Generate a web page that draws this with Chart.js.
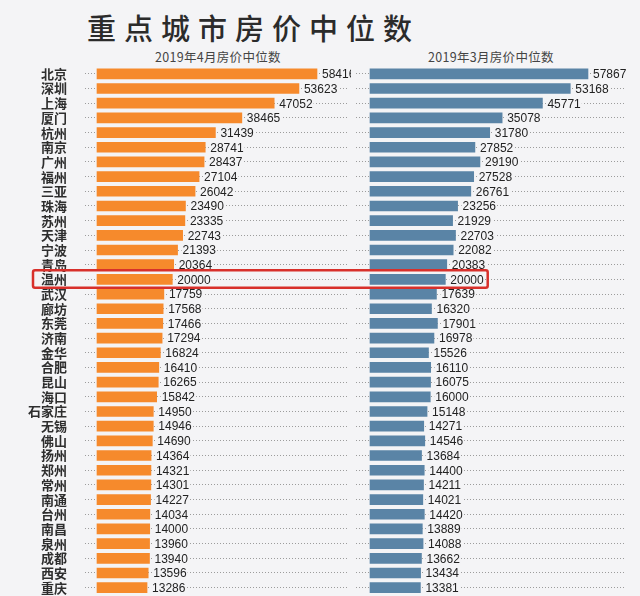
<!DOCTYPE html>
<html>
<head>
<meta charset="utf-8">
<script src="https://cdn.jsdelivr.net/npm/chart.js@4/dist/chart.umd.min.js"></script>
<style>
body { margin: 0; background: #f4f4f6; }
#wrap { position: relative; width: 640px; height: 596px; overflow: hidden; background: #f4f4f6; }
#title { position: absolute; left: 87px; top: 6px; font: 500 29px "Noto Sans CJK SC", sans-serif; letter-spacing: 8px; color: #2b2b2b; white-space: nowrap; }
.sub { position: absolute; top: 47px; font: 12.5px "Noto Sans CJK SC", sans-serif; color: #444; white-space: nowrap; letter-spacing: 0.3px; }
.box { position: absolute; left: 0; top: 0; height: 596px; }
</style>
</head>
<body>
<div id="wrap">
  <div id="title">重点城市房价中位数</div>
  <div class="sub" style="left:155px">2019年4月房价中位数</div>
  <div class="sub" style="left:428px">2019年3月房价中位数</div>
  <div class="box" style="width:351px"><canvas id="left"></canvas></div>
  <div class="box" style="width:640px"><canvas id="right"></canvas></div>
</div>
<script>
var cities = ['北京', '深圳', '上海', '厦门', '杭州', '南京', '广州', '福州', '三亚', '珠海',
  '苏州', '天津', '宁波', '青岛', '温州', '武汉', '廊坊', '东莞', '济南', '金华',
  '合肥', '昆山', '海口', '石家庄', '无锡', '佛山', '扬州', '郑州', '常州', '南通',
  '台州', '南昌', '泉州', '成都', '西安', '重庆'];

var april = [58416, 53623, 47052, 38465, 31439, 28741, 28437, 27104, 26042, 23490,
  23335, 22743, 21393, 20364, 20000, 17759, 17568, 17466, 17294, 16824,
  16410, 16265, 15842, 14950, 14946, 14690, 14364, 14321, 14301, 14227,
  14034, 14000, 13960, 13940, 13596, 13286];

var march = [57867, 53168, 45771, 35078, 31780, 27852, 29190, 27528, 26761, 23256,
  21929, 22703, 22082, 20383, 20000, 17639, 16320, 17901, 16978, 15526,
  16110, 16075, 16000, 15148, 14271, 14546, 13684, 14400, 14211, 14021,
  14420, 13889, 14088, 13662, 13434, 13381];

var highlight = '温州';
var BG = '#f4f4f6';

// numbers printed after each bar
var valueLabels = {
  id: 'valueLabels',
  afterDatasetsDraw: function(chart) {
    var ctx = chart.ctx;
    var vals = chart.data.datasets[0].data;
    ctx.save();
    ctx.font = '12px "Liberation Sans", Arial, sans-serif';
    ctx.textBaseline = 'middle';
    chart.getDatasetMeta(0).data.forEach(function(bar, i) {
      var txt = String(vals[i]);
      var w = ctx.measureText(txt).width;
      var x = bar.x + 5;
      ctx.fillStyle = BG;
      ctx.fillRect(x - 1, bar.y - 6, w + 2, 12);
      ctx.fillStyle = '#222';
      ctx.fillText(txt, x, bar.y + 1);
    });
    ctx.restore();
  }
};

// red frame round the highlighted row
var frame = {
  id: 'frame',
  afterDraw: function(chart) {
    var i = cities.indexOf(highlight);
    var bar = chart.getDatasetMeta(0).data[i];
    var ctx = chart.ctx;
    ctx.save();
    ctx.font = '12px "Liberation Sans", Arial, sans-serif';
    var right = bar.x + 5 + ctx.measureText(String(march[i])).width + 4;
    ctx.strokeStyle = '#d8302b';
    ctx.lineWidth = 2.5;
    ctx.beginPath();
    ctx.roundRect(33, bar.y - 9, right - 33, 17.5, 2);
    ctx.stroke();
    ctx.restore();
  }
};

function makeOptions(min, max, pad, showCities) {
  return {
    indexAxis: 'y',
    responsive: true,
    maintainAspectRatio: false,
    animation: false,
    layout: { padding: pad },
    plugins: { legend: { display: false }, tooltip: { enabled: false } },
    scales: {
      x: { display: false, min: min, max: max },
      y: {
        afterFit: function(s) {
          s.width = showCities ? 85 : 0;
          s.paddingTop = 0;
          s.paddingBottom = 0;
        },
        grid: { offset: false, drawTicks: false, color: '#9c9c9c', lineWidth: 1 },
        border: { display: false, dash: [1, 2] },
        ticks: {
          display: showCities,
          autoSkip: false,
          padding: 18,
          color: '#2e2e2e',
          font: { family: '"Noto Sans CJK SC", sans-serif', size: 13, weight: 'bold' }
        }
      }
    }
  };
}

new Chart(document.getElementById('left'), {
  type: 'bar',
  data: {
    labels: cities,
    datasets: [{ data: april, backgroundColor: '#f68a2c', borderWidth: 0, barThickness: 10 }]
  },
  options: makeOptions(-3186, 66649, { top: 66.5, bottom: 1, left: 0, right: 3 }, true),
  plugins: [valueLabels]
});

new Chart(document.getElementById('right'), {
  type: 'bar',
  data: {
    labels: cities,
    datasets: [{ data: march, backgroundColor: '#5a84a6', borderWidth: 0, barThickness: 10 }]
  },
  options: makeOptions(-3716, 67693, { top: 66.5, bottom: 1, left: 356, right: 15 }, false),
  plugins: [valueLabels, frame]
});
</script>
</body>
</html>
